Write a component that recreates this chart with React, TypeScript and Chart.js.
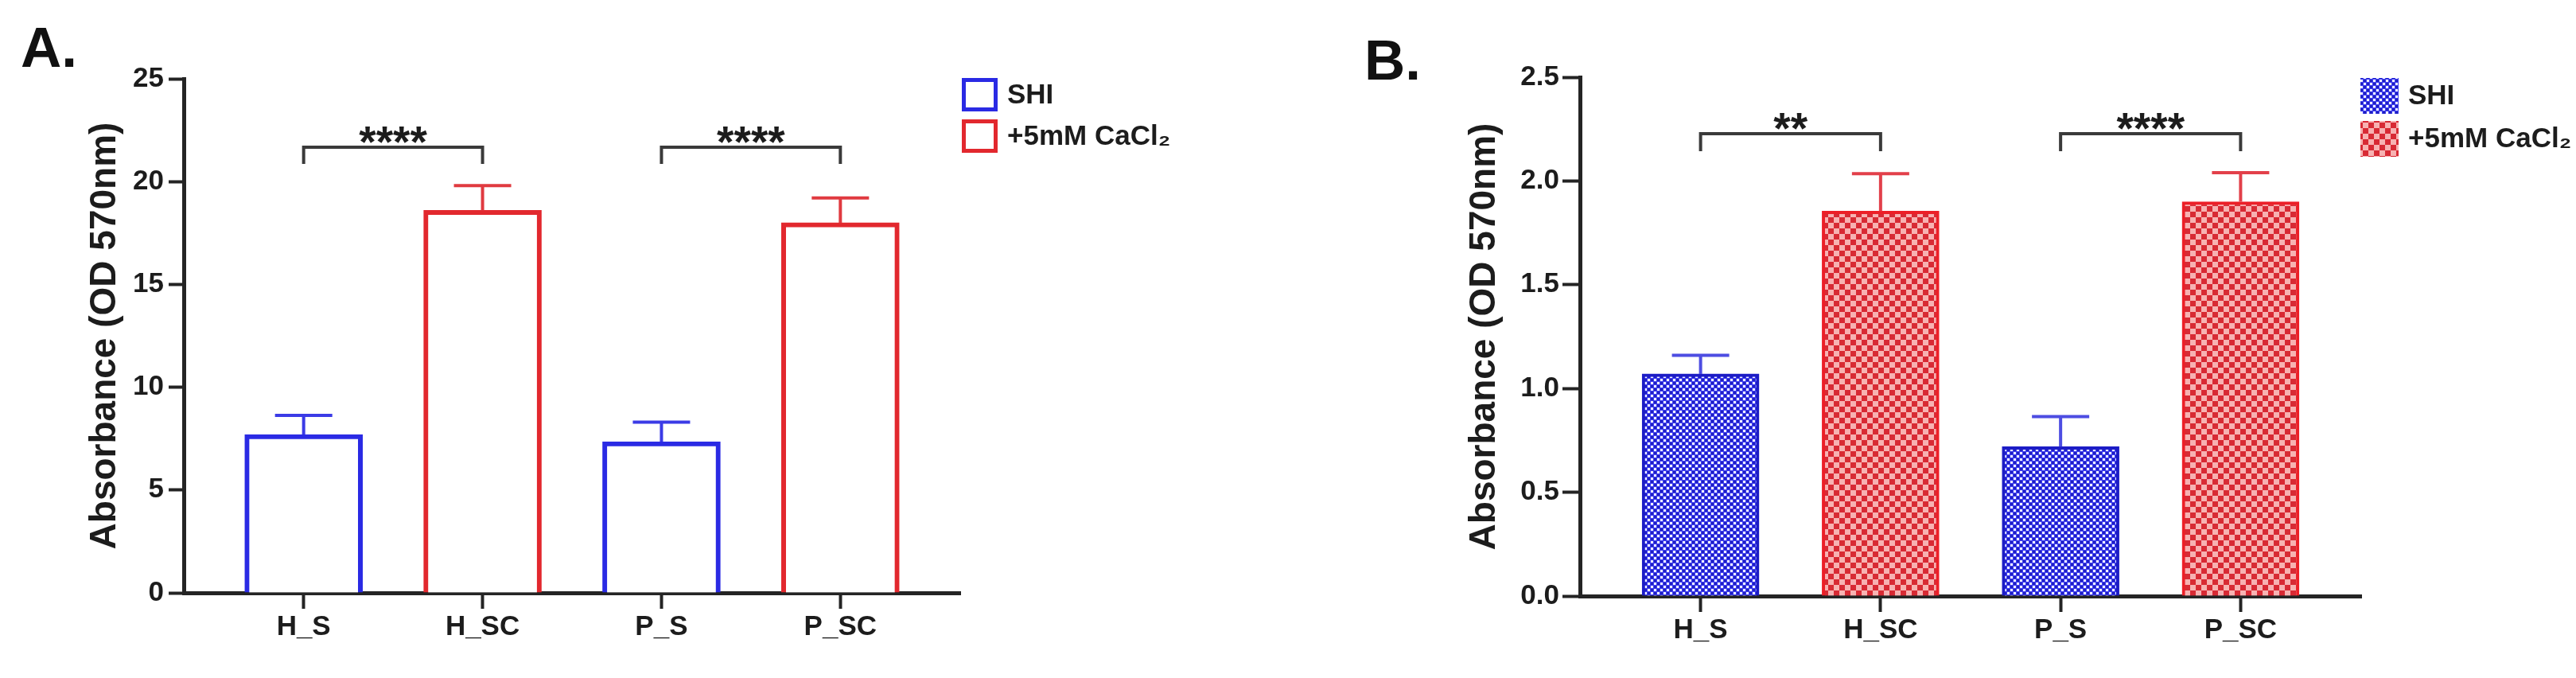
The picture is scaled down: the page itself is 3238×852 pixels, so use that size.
import React, { useEffect, useRef } from 'react';
import { Chart, registerables } from 'chart.js';

Chart.register(...registerables);

// ---------- data ----------
const categories = ['H_S', 'H_SC', 'P_S', 'P_SC'];
const seriesNames = ['SHI', '+5mM CaCl\u2082'];
const yTitle = 'Absorbance (OD 570nm)';

// Panel A (plain bars)
const yTicksA = [0, 5, 10, 15, 20, 25];
const shiMeanA = [7.7, null, 7.35, null];
const shiErrA = [0.93, null, 0.95, null];
const caMeanA = [null, 18.6, null, 18.0];
const caErrA = [null, 1.2, null, 1.2];
const sigLabelsA = ['****', '****'];

// Panel B (patterned bars)
const yTicksB = [0, 0.5, 1.0, 1.5, 2.0, 2.5];
const shiMeanB = [1.07, null, 0.72, null];
const shiErrB = [0.09, null, 0.145, null];
const caMeanB = [null, 1.855, null, 1.9];
const caErrB = [null, 0.18, null, 0.14];
const sigLabelsB = ['**', '****'];

const sigPairs = [[0, 1], [2, 3]];

// ---------- styling ----------
const FONT = "'Liberation Sans', Arial, Helvetica, sans-serif";
const AXIS = '#242424';
const TXT = '#1c1c1c';

function toPoints(vals: (number | null)[]) {
  return vals
    .map((v, i) => (v == null ? null : { x: i, y: v }))
    .filter((p) => p !== null) as { x: number; y: number }[];
}

function bluePattern(ctx: CanvasRenderingContext2D) {
  const c = document.createElement('canvas');
  c.width = 8;
  c.height = 8;
  const g = c.getContext('2d')!;
  g.fillStyle = '#3e3ef0';
  g.fillRect(0, 0, 8, 8);
  g.fillStyle = '#f2f2ff';
  g.fillRect(0, 0, 3, 3);
  g.fillRect(4, 4, 3, 3);
  g.fillStyle = '#2020c2';
  g.fillRect(4, 0, 3, 3);
  g.fillRect(0, 4, 3, 3);
  return ctx.createPattern(c, 'repeat')!;
}

function redPattern(ctx: CanvasRenderingContext2D) {
  const c = document.createElement('canvas');
  c.width = 14;
  c.height = 14;
  const g = c.getContext('2d')!;
  g.fillStyle = '#f7b2b2';
  g.fillRect(0, 0, 14, 14);
  g.fillStyle = '#d82a34';
  g.fillRect(0, 0, 7, 7);
  g.fillRect(7, 7, 7, 7);
  return ctx.createPattern(c, 'repeat')!;
}

const errorBarPlugin = {
  id: 'errorBars',
  afterDatasetsDraw(chart: any) {
    const { ctx } = chart;
    const y = chart.scales.y;
    chart.data.datasets.forEach((ds: any, di: number) => {
      const meta = chart.getDatasetMeta(di);
      meta.data.forEach((el: any, j: number) => {
        const d = ds.data[j];
        const err = ds.errors[d.x];
        if (d.y == null || err == null) return;
        const x = el.x;
        const y0 = y.getPixelForValue(d.y);
        const y1 = y.getPixelForValue(d.y + err);
        ctx.save();
        ctx.strokeStyle = ds.errorColor;
        ctx.lineWidth = 4;
        ctx.beginPath();
        ctx.moveTo(x, y0);
        ctx.lineTo(x, y1);
        ctx.moveTo(x - 36, y1);
        ctx.lineTo(x + 36, y1);
        ctx.stroke();
        ctx.restore();
      });
    });
  },
};

const annotPlugin = {
  id: 'annot',
  afterDraw(chart: any, _args: any, opts: any) {
    const { ctx, chartArea } = chart;
    const x = chart.scales.x;
    const y = chart.scales.y;
    ctx.save();
    // panel letter
    ctx.fillStyle = '#111';
    ctx.font = `bold 71px ${FONT}`;
    ctx.textAlign = 'left';
    ctx.textBaseline = 'alphabetic';
    ctx.fillText(opts.panel, opts.panelX, opts.panelY);

    // significance brackets
    ctx.lineJoin = 'miter';
    sigPairs.forEach(([a, b], k) => {
      const xa = x.getPixelForValue(a);
      const xb = x.getPixelForValue(b);
      const yl = y.getPixelForValue(opts.bracketLevel);
      const ye = y.getPixelForValue(opts.legEnd);
      ctx.strokeStyle = '#3a3a3a';
      ctx.lineWidth = 4;
      ctx.beginPath();
      ctx.moveTo(xa, ye);
      ctx.lineTo(xa, yl);
      ctx.lineTo(xb, yl);
      ctx.lineTo(xb, ye);
      ctx.stroke();
      ctx.fillStyle = TXT;
      ctx.font = `bold 55px ${FONT}`;
      ctx.textAlign = 'center';
      ctx.textBaseline = 'alphabetic';
      ctx.fillText(opts.sigLabels[k], (xa + xb) / 2, yl + 12);
    });

    // legend
    const [bw, bh, step] = opts.legendBox;
    const bx = chartArea.right + opts.legendDx;
    const by = chartArea.top + opts.legendDy;
    chart.data.datasets.forEach((ds: any, i: number) => {
      const top = by + i * step;
      ctx.fillStyle = ds.backgroundColor;
      ctx.fillRect(bx, top, bw, bh);
      const lw = opts.legendBorder;
      if (lw > 0) {
        ctx.strokeStyle = ds.borderColor;
        ctx.lineWidth = lw;
        ctx.strokeRect(bx + lw / 2, top + lw / 2, bw - lw, bh - lw);
      }
      ctx.fillStyle = TXT;
      ctx.font = `bold 35px ${FONT}`;
      ctx.textAlign = 'left';
      ctx.textBaseline = 'middle';
      ctx.fillText(ds.label, bx + bw + 12, top + bh / 2 + 1);
    });
    ctx.restore();
  },
};

function buildChart(canvas: HTMLCanvasElement, cfg: any) {
  const ctx = canvas.getContext('2d')!;
  const shiFill = cfg.patterned ? bluePattern(ctx) : '#ffffff';
  const caFill = cfg.patterned ? redPattern(ctx) : '#ffffff';
  const tickFont = { family: FONT, size: 35, weight: 'bold' as const };

  return new Chart(canvas, {
    type: 'bar',
    data: {
      datasets: [
        {
          label: seriesNames[0],
          data: toPoints(cfg.shiMean),
          errors: cfg.shiErr,
          errorColor: cfg.shiErrColor,
          backgroundColor: shiFill,
          borderColor: cfg.shiBorder,
          borderWidth: cfg.borderWidth,
          barThickness: cfg.barThickness,
          grouped: false,
        } as any,
        {
          label: seriesNames[1],
          data: toPoints(cfg.caMean),
          errors: cfg.caErr,
          errorColor: cfg.caErrColor,
          backgroundColor: caFill,
          borderColor: cfg.caBorder,
          borderWidth: cfg.borderWidth,
          barThickness: cfg.barThickness,
          grouped: false,
        } as any,
      ],
    },
    options: {
      responsive: false,
      animation: false,
      events: [],
      layout: {
        padding: { left: cfg.padLeft, top: cfg.top, right: cfg.padRight, bottom: 0 },
      },
      plugins: {
        legend: { display: false },
        tooltip: { enabled: false },
        annot: {
          panel: cfg.panel,
          panelX: cfg.panelX,
          panelY: cfg.panelY,
          bracketLevel: cfg.bracketLevel,
          legEnd: cfg.legEnd,
          sigLabels: cfg.sigLabels,
          legendBox: cfg.legendBox,
          legendDx: cfg.legendDx,
          legendDy: cfg.legendDy,
          legendBorder: cfg.legendBorder,
        },
      } as any,
      scales: {
        x: {
          type: 'linear',
          min: -0.67,
          max: 3.67,
          offset: false,
          z: 1,
          afterFit: (s: any) => {
            s.height = cfg.xHeight;
          },
          afterBuildTicks: (s: any) => {
            s.ticks = categories.map((_, i) => ({ value: i }));
          },
          grid: {
            offset: false,
            drawOnChartArea: false,
            drawTicks: true,
            tickLength: 20,
            tickWidth: 4,
            tickColor: AXIS,
            color: AXIS,
          },
          border: { display: true, color: AXIS, width: 5 },
          ticks: {
            autoSkip: false,
            maxRotation: 0,
            padding: 2,
            color: TXT,
            font: tickFont,
            callback: (v: any) => categories[v] ?? '',
          },
        } as any,
        y: {
          type: 'linear',
          min: 0,
          max: cfg.yTicks[cfg.yTicks.length - 1],
          z: 1,
          afterFit: (s: any) => {
            s.width = cfg.yWidth;
          },
          afterBuildTicks: (s: any) => {
            s.ticks = cfg.yTicks.map((v: number) => ({ value: v }));
          },
          grid: {
            drawOnChartArea: false,
            drawTicks: true,
            tickLength: cfg.yTickLength,
            tickWidth: 4,
            tickColor: AXIS,
            color: AXIS,
          },
          border: { display: true, color: AXIS, width: 5 },
          ticks: {
            padding: cfg.yTickPad,
            color: TXT,
            font: tickFont,
            callback: (v: any) => cfg.fmt(v),
          },
          title: {
            display: true,
            text: yTitle,
            color: TXT,
            font: { family: FONT, size: 46, weight: 'bold' },
            padding: { top: cfg.titlePad, bottom: 0 },
          },
        } as any,
      },
    },
    plugins: [errorBarPlugin, annotPlugin],
  } as any);
}

const cfgA = {
  patterned: false,
  shiMean: shiMeanA,
  shiErr: shiErrA,
  caMean: caMeanA,
  caErr: caErrA,
  yTicks: yTicksA,
  fmt: (v: number) => String(v),
  sigLabels: sigLabelsA,
  shiBorder: '#2a2ae4',
  caBorder: '#e2282e',
  shiErrColor: '#3b3be6',
  caErrColor: '#e03a40',
  borderWidth: 6,
  barThickness: 148,
  padLeft: 0,
  yWidth: 231,
  top: 99,
  padRight: 412,
  xHeight: 107,
  titlePad: 105,
  yTickLength: 19,
  yTickPad: 6,
  panel: 'A.',
  panelX: 26,
  panelY: 84,
  bracketLevel: 21.67,
  legEnd: 20.86,
  legendBox: [45, 42, 52],
  legendDx: 2,
  legendDy: -1,
  legendBorder: 5,
};

const cfgB = {
  patterned: true,
  shiMean: shiMeanB,
  shiErr: shiErrB,
  caMean: caMeanB,
  caErr: caErrB,
  yTicks: yTicksB,
  fmt: (v: number) => v.toFixed(1),
  sigLabels: sigLabelsB,
  shiBorder: '#1c1cc6',
  caBorder: '#ec1f27',
  shiErrColor: '#4d4de2',
  caErrColor: '#e2404a',
  borderWidth: 4,
  barThickness: 147,
  padLeft: 136,
  yWidth: 231,
  top: 97,
  padRight: 270,
  xHeight: 103,
  titlePad: 84,
  yTickLength: 22,
  yTickPad: 4,
  panel: 'B.',
  panelX: 96,
  panelY: 100,
  bracketLevel: 2.228,
  legEnd: 2.143,
  legendBox: [48, 45, 54],
  legendDx: -1,
  legendDy: 1,
  legendBorder: 0,
};

export default function App() {
  const refA = useRef<HTMLCanvasElement>(null);
  const refB = useRef<HTMLCanvasElement>(null);

  useEffect(() => {
    const charts: Chart[] = [];
    if (refA.current) charts.push(buildChart(refA.current, cfgA));
    if (refB.current) charts.push(buildChart(refB.current, cfgB));
    return () => charts.forEach((c) => c.destroy());
  }, []);

  return (
    <div
      style={{
        position: 'absolute',
        left: 0,
        top: 0,
        width: 3238,
        height: 852,
        background: '#ffffff',
      }}
    >
      <canvas
        ref={refA}
        width={1619}
        height={852}
        style={{ position: 'absolute', left: 0, top: 0 }}
      />
      <canvas
        ref={refB}
        width={1619}
        height={852}
        style={{ position: 'absolute', left: 1619, top: 0 }}
      />
    </div>
  );
}
